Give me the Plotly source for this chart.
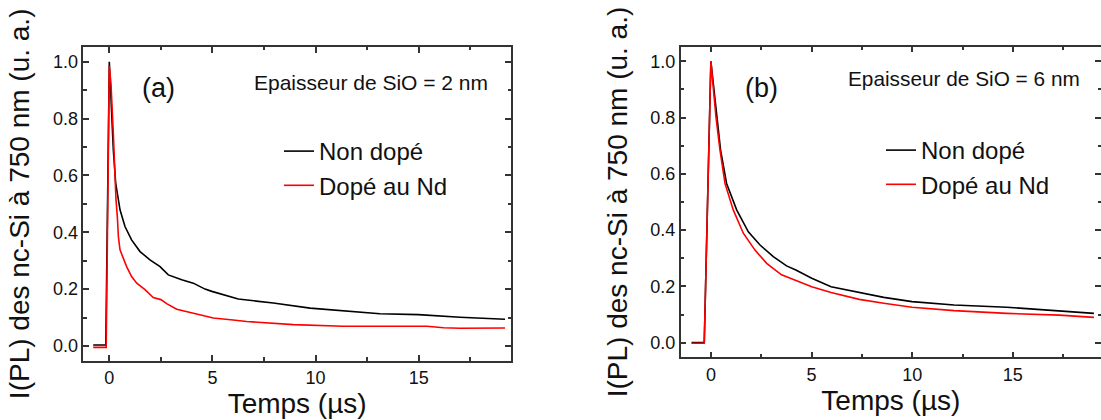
import plotly.graph_objects as go

# ---- data (time in µs, normalised PL intensity) ----
# Panel (a): SiO thickness = 2 nm
t_a_non = [-0.78, -0.17, 0.0, 0.115, 0.195, 0.31, 0.52, 0.76, 1.08, 1.49, 1.97, 2.46, 2.86, 3.51, 4.07,
           4.64, 4.97, 6.25, 7.44, 7.95, 9.73, 11.34, 13.12, 14.98, 17.0, 19.18]
i_a_non = [0.003, 0.003, 1.0, 0.807, 0.69, 0.573, 0.479, 0.42, 0.373, 0.332, 0.303, 0.279, 0.25, 0.233, 0.221,
           0.2, 0.192, 0.165, 0.157, 0.151, 0.133, 0.124, 0.113, 0.11, 0.101, 0.094]
t_a_nd = [-0.78, -0.15, 0.0, 0.08, 0.195, 0.23, 0.28, 0.325, 0.39, 0.44, 0.52, 0.84, 1.08, 1.33, 1.73, 2.13,
          2.5, 2.8, 3.27, 3.99, 4.64, 5.04, 6.0, 6.66, 8.92, 11.34, 13.77, 15.4, 16.2, 17.0, 19.18]
i_a_nd = [-0.005, -0.005, 0.985, 0.924, 0.748, 0.69, 0.573, 0.514, 0.455, 0.385, 0.338, 0.279, 0.244, 0.221,
          0.198, 0.17, 0.163, 0.148, 0.129, 0.116, 0.104, 0.098, 0.091, 0.086, 0.075, 0.069, 0.069, 0.069,
          0.064, 0.062, 0.063]

# Panel (b): SiO thickness = 6 nm
t_b_non = [-0.96, -0.33, 0.0, 0.12, 0.28, 0.48, 0.78, 1.28, 1.86, 2.44, 3.1, 3.76, 4.22, 5.01, 5.97, 7.37,
           8.59, 9.99, 12.08, 14.7, 17.32, 19.03]
i_b_non = [0.0, 0.0, 1.0, 0.922, 0.803, 0.685, 0.566, 0.472, 0.394, 0.347, 0.306, 0.273, 0.258, 0.229, 0.199,
           0.178, 0.161, 0.146, 0.134, 0.126, 0.114, 0.104]
t_b_nd = [-0.96, -0.33, 0.0, 0.08, 0.25, 0.45, 0.70, 1.11, 1.61, 2.19, 2.77, 3.51, 4.3, 5.01, 5.97, 7.37,
          8.59, 9.99, 12.08, 14.7, 17.32, 19.03]
i_b_nd = [-0.002, -0.002, 1.0, 0.93, 0.803, 0.685, 0.566, 0.472, 0.389, 0.329, 0.282, 0.241, 0.22, 0.199,
          0.178, 0.154, 0.14, 0.126, 0.114, 0.104, 0.098, 0.09]

series_names = ["Non dopé", "Dopé au Nd"]
series_colors = ["#000000", "#ff0000"]
panel_labels = ["(a)", "(b)"]
thickness_labels = ["Epaisseur de SiO = 2 nm", "Epaisseur de SiO = 6 nm"]
x_title = "Temps (µs)"
y_title = "I(PL) des nc-Si à 750 nm (u. a.)"

FONT = "Arial, Liberation Sans, sans-serif"
W, H = 1101, 420
AX = "#333333"

fig = go.Figure()
for (t, v, name, col) in [(t_a_non, i_a_non, series_names[0], series_colors[0]),
                          (t_a_nd, i_a_nd, series_names[1], series_colors[1])]:
    fig.add_trace(go.Scatter(x=t, y=v, mode="lines", name=name, line=dict(color=col, width=1.6),
                             xaxis="x", yaxis="y", legend="legend"))
for (t, v, name, col) in [(t_b_non, i_b_non, series_names[0], series_colors[0]),
                          (t_b_nd, i_b_nd, series_names[1], series_colors[1])]:
    fig.add_trace(go.Scatter(x=t, y=v, mode="lines", name=name, line=dict(color=col, width=1.6),
                             xaxis="x2", yaxis="y2", legend="legend2"))

common = dict(showline=True, linecolor=AX, linewidth=1.5, mirror="ticks", ticks="inside", ticklen=6,
              tickwidth=1.5, tickcolor=AX, showgrid=False, zeroline=False, automargin=False,
              tickfont=dict(family=FONT, size=18, color="#111111"))
xcommon = dict(common, tick0=0, dtick=5,
               minor=dict(ticks="inside", ticklen=3.5, tickwidth=1.5, tickcolor=AX, dtick=2.5, showgrid=False),
               title=dict(text=x_title, font=dict(family=FONT, size=28, color="#111111"), standoff=4))
ycommon = dict(common, tick0=0, dtick=0.2, tickformat=".1f", range=[-0.052, 1.052],
               minor=dict(ticks="inside", ticklen=3.5, tickwidth=1.5, tickcolor=AX, dtick=0.1, showgrid=False),
               title=dict(text=y_title, font=dict(family=FONT, size=28, color="#111111"), standoff=15))

fig.update_layout(
    template="none",
    width=W, height=H, margin=dict(l=0, r=0, t=0, b=0, pad=0, autoexpand=False),
    paper_bgcolor="white", plot_bgcolor="white",
    font=dict(family=FONT, color="#111111"),
    xaxis=dict(xcommon, domain=[83.3 / W, 511 / W], range=[-1.26, 19.47], anchor="y"),
    yaxis=dict(ycommon, domain=[(H - 360.7) / H, (H - 47) / H], anchor="x"),
    xaxis2=dict(xcommon, domain=[680.7 / W, 1.0], range=[-1.5, 19.38], anchor="y2"),
    yaxis2=dict(ycommon, domain=[(H - 357.3) / H, (H - 46.7) / H], anchor="x2"),
    legend=dict(x=279 / W, y=(H - 129) / H, xanchor="left", yanchor="top", bgcolor="rgba(0,0,0,0)",
                font=dict(family=FONT, size=24, color="#111111"), tracegroupgap=0),
    legend2=dict(x=881 / W, y=(H - 128) / H, xanchor="left", yanchor="top", bgcolor="rgba(0,0,0,0)",
                 font=dict(family=FONT, size=24, color="#111111"), tracegroupgap=0),
    showlegend=True,
)

ann = dict(xref="paper", yref="paper", showarrow=False, xanchor="center", yanchor="middle")
fig.add_annotation(text=panel_labels[0], x=158.3 / W, y=(H - 88.3) / H,
                   font=dict(family=FONT, size=27, color="#111111"), **ann)
fig.add_annotation(text=panel_labels[1], x=761.7 / W, y=(H - 88.3) / H,
                   font=dict(family=FONT, size=27, color="#111111"), **ann)
fig.add_annotation(text=thickness_labels[0], x=371.3 / W, y=(H - 83) / H,
                   font=dict(family=FONT, size=21, color="#111111"), **ann)
fig.add_annotation(text=thickness_labels[1], x=964 / W, y=(H - 78.5) / H,
                   font=dict(family=FONT, size=20.8, color="#111111"), **ann)

fig.write_html("out.html", config={"displayModeBar": False},
               post_script="document.body.style.margin='0px';")
